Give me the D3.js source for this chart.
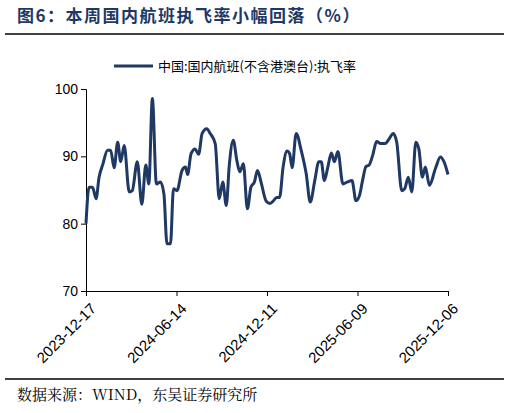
<!DOCTYPE html>
<html><head><meta charset="utf-8">
<script src="https://cdn.jsdelivr.net/npm/d3@7"></script>
<style>body{margin:0;background:#fff}</style></head>
<body><svg id="c" width="510" height="413"></svg>
<script>
const startDate = "2023-12-17";
const dayOffsets = [0,6,13,20,26,33,43,49,56,63,69,76,86,92,102,111,119,125,132,140,148,155,161,168,174,181,191,198,202,209,217,224,231,240,247,257,265,272,279,285,293,300,306,313,321,328,335,341,349,358,366,373,379,385,392,400,405,410,418,428,438,446,455,463,468,474,481,488,494,501,511,520,529,537,544,550,557,563,570,578,586,595,603,611,618,628,634,641,648,656,662,669,675,683,695,705,712,720];
const rates = [80.0,85.4,85.4,83.7,86.9,88.7,90.9,90.9,88.3,92.1,89.2,91.6,84.7,84.9,89.2,82.9,88.7,85.9,98.6,85.9,86.2,84.4,77.0,77.0,85.2,84.9,87.9,88.4,87.3,90.4,91.1,90.3,93.4,94.1,93.4,91.9,83.7,86.2,82.7,88.7,92.4,89.4,87.7,88.9,82.2,85.4,86.2,87.9,85.9,83.4,83.0,83.4,83.9,83.9,88.4,90.8,90.4,88.3,93.4,90.9,87.4,83.2,86.4,89.2,89.2,86.4,88.4,90.5,89.2,90.7,85.9,86.2,86.4,83.4,84.2,86.4,88.5,88.7,90.1,92.2,91.9,91.9,92.6,93.4,92.1,84.9,85.2,86.9,84.7,92.1,91.1,86.9,88.4,85.7,88.2,89.9,89.2,87.3];
const tickLabels = ["2023-12-17","2024-06-14","2024-12-11","2025-06-09","2025-12-06"];
const yTicks = [70,80,90,100];
const title = "图6：本周国内航班执飞率小幅回落（%）";
const legendText = "中国:国内航班(不含港澳台):执飞率";
const source = "数据来源：WIND，东吴证券研究所";

const parse = d3.timeParse("%Y-%m-%d");
const t0 = parse(startDate);
const data = dayOffsets.map((d,i)=>({date:d3.timeDay.offset(t0,d), v:rates[i]}));
const svg = d3.select("#c");
const navy = "#1f3864";
const x = d3.scaleTime().domain([t0, parse(tickLabels[4])]).range([86,448]);
const y = d3.scaleLinear().domain([70,100]).range([291,89]);

svg.append("text").attr("x",17).attr("y",22).attr("fill",navy).attr("font-weight","bold")
  .attr("font-size",17).attr("font-family","Noto Sans CJK SC").attr("letter-spacing",1.5).text(title);
svg.append("line").attr("x1",5).attr("x2",504).attr("y1",34).attr("y2",34).attr("stroke","#000").attr("stroke-width",1.5);

svg.append("line").attr("x1",114).attr("x2",153).attr("y1",66).attr("y2",66).attr("stroke",navy).attr("stroke-width",3);
svg.append("text").attr("x",158).attr("y",71).attr("font-size",13).attr("font-family","Noto Sans CJK SC").attr("fill","#000").text(legendText);

const ya = svg.append("g").attr("transform","translate(86,0)")
  .call(d3.axisLeft(y).tickValues(yTicks).tickSize(5).tickFormat(d3.format("d")));
ya.selectAll("text").attr("font-size",14).attr("font-family","Liberation Sans").attr("fill","#000");
ya.select(".domain").attr("stroke","#000");

const xa = svg.append("g").attr("transform","translate(0,291)")
  .call(d3.axisBottom(x).tickValues(tickLabels.map(parse)).tickSize(5).tickSizeOuter(0).tickFormat(d3.timeFormat("%Y-%m-%d")));
xa.selectAll("text").attr("font-size",15).attr("font-family","Liberation Sans").attr("fill","#000")
  .attr("text-anchor","end").attr("dy",0).attr("dx",0).attr("transform","translate(5,13) rotate(-45)");
xa.select(".domain").attr("stroke","#000");

svg.append("path").datum(data).attr("fill","none").attr("stroke",navy).attr("stroke-width",3)
  .attr("stroke-linejoin","round")
  .attr("d", d3.line().x(d=>x(d.date)).y(d=>y(d.v)).curve(d3.curveMonotoneX));

svg.append("line").attr("x1",5).attr("x2",504).attr("y1",379).attr("y2",379).attr("stroke","#000").attr("stroke-width",1.5);
svg.append("text").attr("x",17).attr("y",400).attr("font-size",15).attr("font-family","Noto Serif CJK SC, Liberation Serif, Noto Sans CJK SC").attr("fill","#000").text(source);
</script></body></html>
